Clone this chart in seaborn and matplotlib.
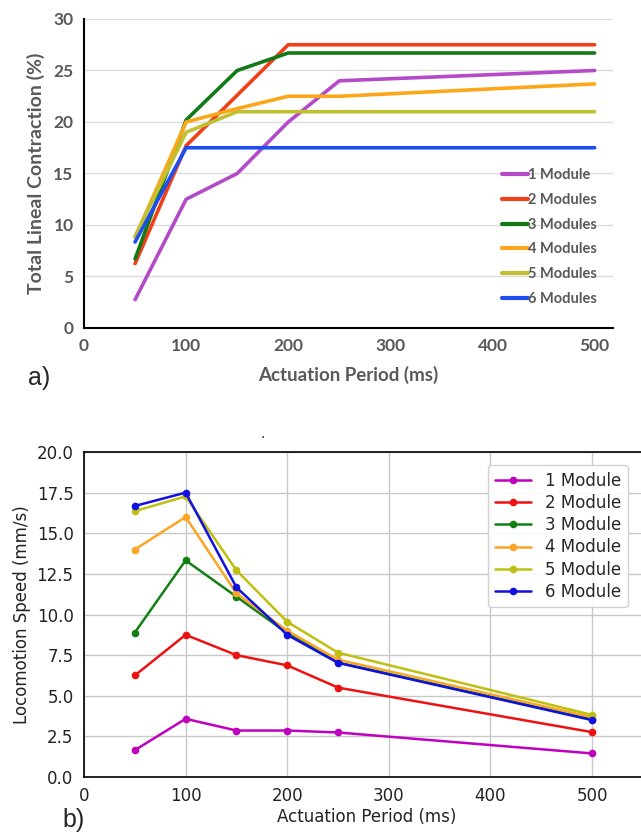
import pandas as pd
import numpy as np
import matplotlib.pyplot as plt
import seaborn as sns

# Data

periods = [50, 100, 150, 200, 250, 500]

contraction_labels = ['1 Module', '2 Modules', '3 Modules', '4 Modules', '5 Modules', '6 Modules']
contraction_1 = [2.75, 12.5, 15.0, 20.0, 24.0, 25.0]
contraction_2 = [6.25, 17.7, 22.6, 27.5, 27.5, 27.5]
contraction_3 = [6.7, 20.2, 25.0, 26.7, 26.7, 26.7]
contraction_4 = [8.8, 20.0, 21.3, 22.5, 22.5, 23.7]
contraction_5 = [8.9, 19.0, 21.0, 21.0, 21.0, 21.0]
contraction_6 = [8.35, 17.5, 17.5, 17.5, 17.5, 17.5]

speed_labels = ['1 Module', '2 Module', '3 Module', '4 Module', '5 Module', '6 Module']
speed_1 = [1.65, 3.58, 2.86, 2.86, 2.74, 1.45]
speed_2 = [6.25, 8.75, 7.5, 6.87, 5.5, 2.76]
speed_3 = [8.89, 13.33, 11.1, 8.85, 7.05, 3.55]
speed_4 = [14.0, 16.0, 11.3, 9.0, 7.22, 3.68]
speed_5 = [16.36, 17.27, 12.72, 9.55, 7.65, 3.82]
speed_6 = [16.68, 17.5, 11.67, 8.75, 7.02, 3.5]

contraction_colors = ['#b54ac8', '#f0401a', '#117a17', '#fca61a', '#bfc032', '#1c4ef0']
speed_colors = ['#bf00bf', '#ee1111', '#138013', '#fba527', '#bfbf10', '#1010e0']

# Long format tables

df_top = pd.DataFrame({
    'period': periods * 6,
    'value': contraction_1 + contraction_2 + contraction_3 + contraction_4 + contraction_5 + contraction_6,
    'group': [lab for lab in contraction_labels for _ in periods],
})

df_bot = pd.DataFrame({
    'period': periods * 6,
    'value': speed_1 + speed_2 + speed_3 + speed_4 + speed_5 + speed_6,
    'group': [lab for lab in speed_labels for _ in periods],
})

sns.set_style('white')
plt.rcParams['font.family'] = ['DejaVu Sans']

fig = plt.figure(figsize=(6.41, 8.39), dpi=100)

# a) Total lineal contraction

ax1 = fig.add_axes([84/641, 1 - 328/839, (613 - 84)/641, (328 - 19)/839])

sns.lineplot(data=df_top, x='period', y='value', hue='group',
             palette=contraction_colors, linewidth=2.6, ax=ax1)

grey = '#595959'
ax1.set_xlim(0, 518)
ax1.set_ylim(0, 30)
ax1.set_xticks([0, 100, 200, 300, 400, 500])
ax1.set_yticks([0, 5, 10, 15, 20, 25, 30])
ax1.yaxis.grid(True, color='#dcdcdc', linewidth=1)
ax1.xaxis.grid(False)
for s in ['top', 'right']:
    ax1.spines[s].set_visible(False)
for s in ['left', 'bottom']:
    ax1.spines[s].set_color('black')
    ax1.spines[s].set_linewidth(1.5)
ax1.tick_params(axis='both', length=4, width=1, color='black', direction='out',
                labelcolor=grey, labelsize=12.5)
for lab in ax1.get_xticklabels() + ax1.get_yticklabels():
    lab.set_fontweight('bold')
    lab.set_family('Lato')
ax1.set_xlabel('Actuation Period (ms)', fontsize=13.5, fontweight='bold', color=grey,
               family='Lato', labelpad=8)
ax1.set_ylabel('Total Lineal Contraction (%)', fontsize=14, fontweight='bold', color=grey,
               family='Lato', labelpad=6)

leg1 = ax1.legend(loc='upper right', bbox_to_anchor=(0.995, 0.56), frameon=False,
                  handlelength=1.8, handletextpad=0.0, labelspacing=0.74,
                  prop={'family': 'Lato', 'weight': 'bold', 'size': 10.5})
for t in leg1.get_texts():
    t.set_color(grey)
for h in leg1.get_lines():
    h.set_linewidth(3)

fig.text(28/641, 1 - 378/839, 'a)', fontsize=18, family='Liberation Sans', va='center')

# b) Locomotion speed

ax2 = fig.add_axes([84/641, 1 - 777/839, 565/641, (777 - 452)/839])

sns.lineplot(data=df_bot, x='period', y='value', hue='group',
             palette=speed_colors, linewidth=1.8, marker='o', markersize=5.5,
             markeredgewidth=0, ax=ax2)

ax2.set_xlim(0, 556)
ax2.set_ylim(0, 20)
ax2.set_xticks([0, 100, 200, 300, 400, 500])
ax2.set_yticks(np.arange(0, 20.1, 2.5))
ax2.yaxis.set_major_formatter(plt.FormatStrFormatter('%.1f'))
ax2.grid(True, color='#c8c8c8', linewidth=1)
for s in ax2.spines.values():
    s.set_color('black')
    s.set_linewidth(1.2)
ax2.tick_params(axis='both', length=4, width=1, color='black', direction='out',
                labelsize=12, labelcolor='#222222')
ax2.set_xlabel('Actuation Period (ms)', fontsize=12, labelpad=2, color='#222222')
ax2.set_ylabel('Locomotion Speed (mm/s)', fontsize=12, labelpad=4, color='#222222')

ax2.legend(loc='upper right', bbox_to_anchor=(0.977, 0.985), fontsize=12,
           handlelength=2.2, labelspacing=0.25, borderpad=0.4, framealpha=0.9,
           edgecolor='#cccccc')

fig.text(260/641, 1 - 438/839, '.', fontsize=10)
fig.text(62/641, 1 - 820/839, 'b)', fontsize=18, family='Liberation Sans', va='center')

plt.savefig('out.png', dpi=100)
